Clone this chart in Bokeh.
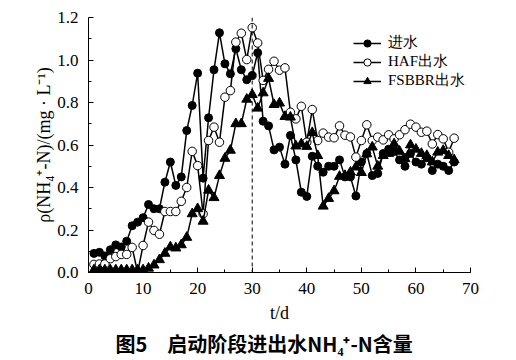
from bokeh.plotting import figure
from bokeh.models import (Range1d, SingleIntervalTicker, FixedTicker, PrintfTickFormatter,
                          Span, Legend, LegendItem, Title)
from bokeh.embed import file_html
from bokeh.resources import INLINE

days = list(range(1, 68))
influent = [0.09, 0.095, 0.078, 0.107, 0.13, 0.12, 0.147, 0.22, 0.237, 0.258,
            0.32, 0.30, 0.30, 0.425, 0.52, 0.41, 0.45, 0.668, 0.786, 0.938,
            0.444, 0.728, 0.954, 1.128, 0.982, 0.935, 1.053, 0.954, 0.907, 0.927,
            1.034, 0.712, 0.69, 0.577, 0.59, 0.51, 0.645, 0.53, 0.378, 0.358,
            0.547, 0.50, 0.472, 0.50, 0.50, 0.53, 0.45, 0.45, 0.36, 0.52,
            0.56, 0.456, 0.466, 0.56, 0.58, 0.57, 0.53, 0.50, 0.56, 0.52,
            0.51, 0.54, 0.48, 0.51, 0.50, 0.48, 0.52]
haf = [0.038, 0.04, 0.04, 0.065, 0.075, 0.085, 0.085, 0.118, 0.0, 0.127,
       0.237, 0.198, 0.18, 0.287, 0.287, 0.287, 0.335, 0.40, 0.57, 0.503,
       0.276, 0.621, 0.684, 0.613, 0.825, 0.856, 1.084, 1.126, 1.002, 1.152,
       1.08, 0.904, 0.956, 0.994, 0.952, 0.963, 0.754, 0.723, 0.782, 0.613,
       0.767, 0.621, 0.656, 0.637, 0.634, 0.69, 0.646, 0.638, 0.543, 0.621,
       0.695, 0.621, 0.637, 0.624, 0.648, 0.629, 0.648, 0.672, 0.698, 0.684,
       0.66, 0.665, 0.605, 0.649, 0.629, 0.566, 0.632]
fsbbr = [0.012, 0.012, 0.012, 0.012, 0.012, 0.012, 0.012, 0.012, 0.012, 0.012,
         0.02, 0.035, 0.06, 0.09, 0.12, 0.115, 0.13, 0.165, 0.276, 0.30,
         0.241, 0.387, 0.352, 0.456, 0.537, 0.575, 0.70, 0.70, 0.815, 0.837,
         0.773, 0.845, 0.913, 0.79, 0.797, 0.734, 0.731, 0.595, 0.605, 0.593,
         0.658, 0.55, 0.312, 0.348, 0.384, 0.452, 0.456, 0.472, 0.496, 0.47,
         0.558, 0.59, 0.50, 0.55, 0.56, 0.605, 0.57, 0.535, 0.60, 0.58,
         0.56, 0.55, 0.52, 0.566, 0.574, 0.55, 0.53]
series_names = ["进水", "HAF出水", "FSBBR出水"]
y_ticks = [0.0, 0.2, 0.4, 0.6, 0.8, 1.0, 1.2]
y_minor = [0.1, 0.3, 0.5, 0.7, 0.9, 1.1]
start_day = 30
x_label = "t/d"
y_label = "ρ(NH₄⁺-N)/(mg · L⁻¹)"
caption = "图5　启动阶段进出水NH₄⁺-N含量"

p = figure(width=514, height=358, output_backend="svg", toolbar_location=None,
           x_range=Range1d(0, 70), y_range=Range1d(0, 1.2),
           min_border_left=88, min_border_right=44, min_border_top=17,
           min_border_bottom=86)
p.outline_line_color = None
p.grid.visible = False

SERIF = "Liberation Serif"
for ax in (p.xaxis[0], p.yaxis[0]):
    ax.axis_line_color = "black"
    ax.axis_line_width = 1
    ax.major_tick_in = 5
    ax.major_tick_out = 0
    ax.minor_tick_in = 3
    ax.minor_tick_out = 0
    ax.major_tick_line_color = "black"
    ax.minor_tick_line_color = "black"
    ax.major_label_text_font = SERIF
    ax.major_label_text_font_size = "17px"
    ax.major_label_text_color = "black"
    ax.axis_label_text_font = SERIF
    ax.axis_label_text_font_size = "18px"
    ax.axis_label_text_font_style = "normal"
    ax.axis_label_text_color = "black"

p.xaxis.ticker = SingleIntervalTicker(interval=10, num_minor_ticks=2)
p.yaxis.ticker = FixedTicker(ticks=y_ticks, minor_ticks=y_minor)
p.yaxis.formatter = PrintfTickFormatter(format="%.1f")
p.xaxis.major_label_standoff = 10
p.yaxis.major_label_standoff = 10
p.xaxis.axis_label = x_label
p.yaxis.axis_label = y_label
p.xaxis.axis_label_standoff = 6
p.yaxis.axis_label_standoff = 0

p.add_layout(Span(location=start_day, dimension="height", line_color="black",
                  line_width=1, line_dash="4 3"))

l1 = p.line(days, influent, line_color="black", line_width=1.5)
s1 = p.scatter(days, influent, marker="circle", size=8, fill_color="black",
               line_color="black")
l2 = p.line(days, haf, line_color="black", line_width=1.5)
s2 = p.scatter(days, haf, marker="circle", size=8.5, fill_color="white",
               line_color="black", line_width=1)
l3 = p.line(days, fsbbr, line_color="black", line_width=1.5)
s3 = p.scatter(days, fsbbr, marker="triangle", size=10, fill_color="black",
               line_color="black")

legend = Legend(items=[LegendItem(label=series_names[0], renderers=[l1, s1]),
                       LegendItem(label=series_names[1], renderers=[l2, s2]),
                       LegendItem(label=series_names[2], renderers=[l3, s3])],
                location=(265, 182), padding=0, margin=0, spacing=0,
                glyph_width=28, glyph_height=18, label_height=18,
                label_standoff=7, border_line_color=None,
                background_fill_alpha=0,
                label_text_font=SERIF, label_text_font_size="15px",
                label_text_color="black")
p.add_layout(legend)

cap = Title(text=caption, align="left", offset=27, standoff=2,
            text_font="Noto Sans CJK SC", text_font_size="20px",
            text_font_style="bold", text_color="black")
p.add_layout(cap, "below")

open("out.html", "w").write(file_html(p, INLINE))
